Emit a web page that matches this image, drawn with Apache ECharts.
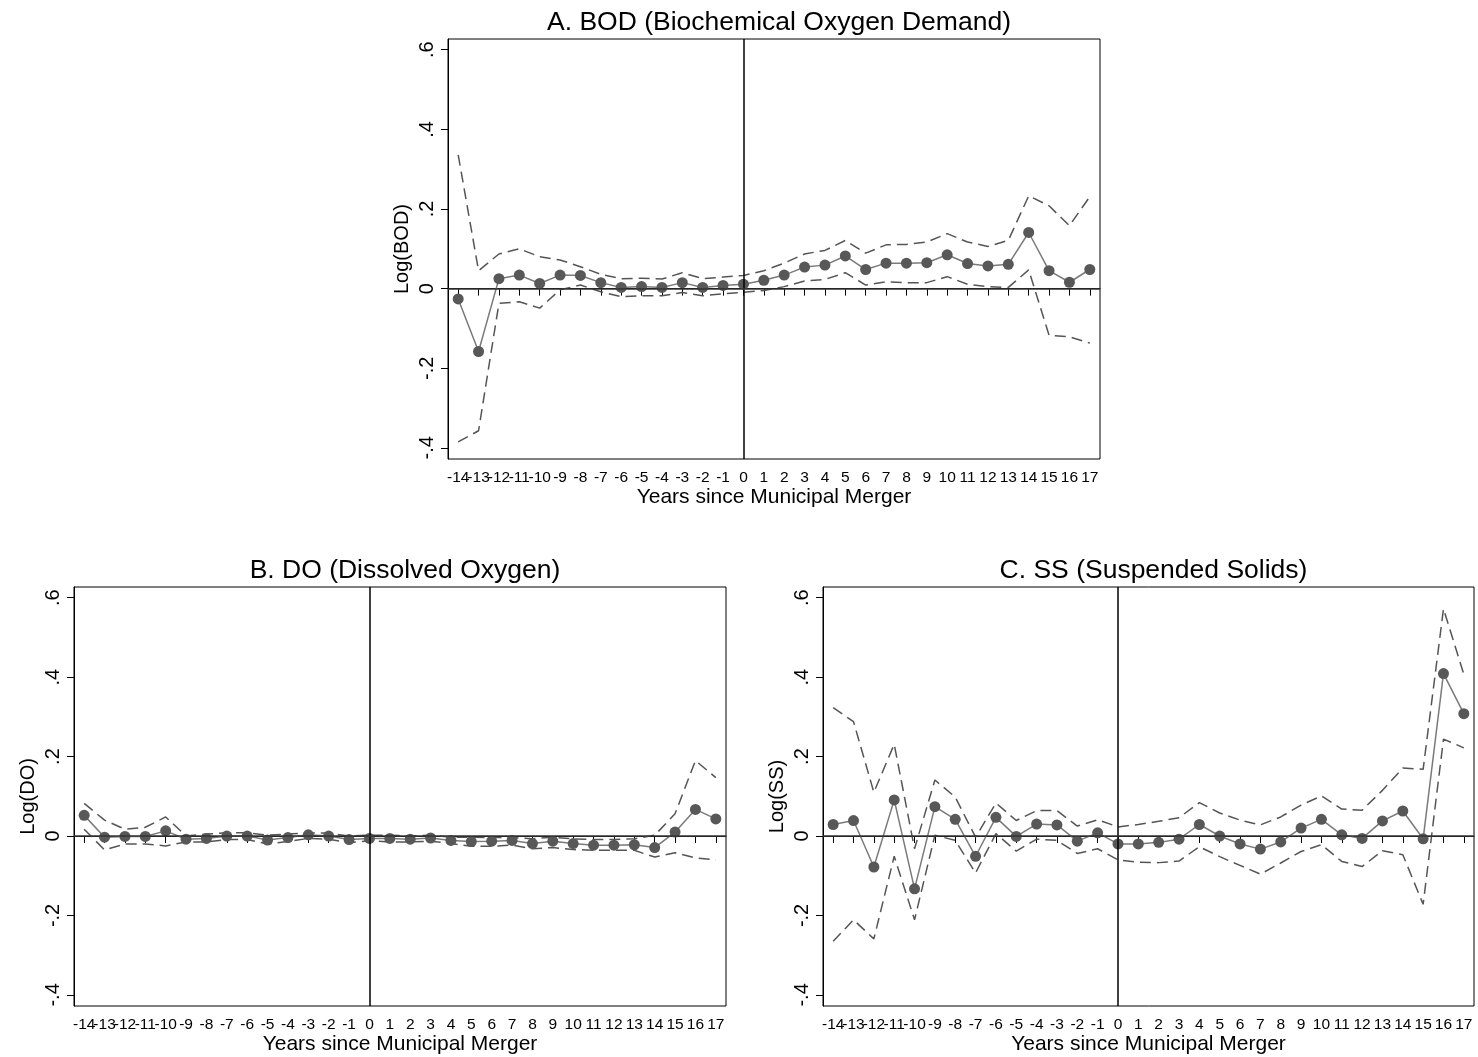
<!DOCTYPE html>
<html>
<head>
<meta charset="utf-8">
<script src="https://cdn.jsdelivr.net/npm/echarts@6/dist/echarts.min.js"></script>
<style>
html,body{margin:0;padding:0;background:#fff;}
#chart{width:1478px;height:1057px;}
</style>
</head>
<body>
<div id="chart"></div>
<script>
const years = ['-14','-13','-12','-11','-10','-9','-8','-7','-6','-5','-4','-3','-2','-1','0','1','2','3','4','5','6','7','8','9','10','11','12','13','14','15','16','17'];
const yTicks = [-0.4, -0.2, 0, 0.2, 0.4, 0.6];

const bodEst = [-0.026,-0.158,0.025,0.034,0.013,0.034,0.033,0.015,0.003,0.005,0.003,0.015,0.003,0.008,0.011,0.021,0.034,0.054,0.059,0.082,0.048,0.064,0.064,0.065,0.085,0.063,0.057,0.061,0.141,0.045,0.016,0.048];
const bodHi  = [0.336,0.045,0.087,0.100,0.080,0.072,0.055,0.036,0.025,0.026,0.024,0.040,0.025,0.029,0.033,0.045,0.064,0.087,0.096,0.121,0.089,0.110,0.111,0.117,0.138,0.117,0.106,0.121,0.233,0.208,0.158,0.231];
const bodLo  = [-0.385,-0.357,-0.037,-0.033,-0.049,-0.003,0.009,-0.008,-0.020,-0.018,-0.018,-0.010,-0.018,-0.013,-0.009,-0.005,0.005,0.019,0.023,0.040,0.009,0.017,0.015,0.015,0.030,0.011,0.005,0.003,0.047,-0.117,-0.121,-0.137];

const doEst = [0.052,-0.003,-0.001,-0.001,0.013,-0.008,-0.006,0.000,0.000,-0.010,-0.004,0.003,0.000,-0.009,-0.006,-0.006,-0.008,-0.005,-0.011,-0.014,-0.013,-0.011,-0.019,-0.013,-0.019,-0.023,-0.023,-0.022,-0.029,0.010,0.067,0.043];
const doHi  = [0.082,0.040,0.017,0.022,0.048,0.000,0.005,0.008,0.008,0.002,0.005,0.008,0.007,0.000,0.002,0.002,0.000,0.002,-0.003,-0.003,-0.004,-0.004,-0.007,-0.003,-0.007,-0.009,-0.009,-0.007,0.002,0.056,0.190,0.147];
const doLo  = [0.017,-0.035,-0.020,-0.020,-0.025,-0.015,-0.015,-0.009,-0.009,-0.020,-0.014,-0.006,-0.008,-0.017,-0.012,-0.015,-0.015,-0.013,-0.019,-0.026,-0.026,-0.023,-0.032,-0.029,-0.034,-0.036,-0.036,-0.036,-0.053,-0.042,-0.055,-0.060];

const ssEst = [0.029,0.039,-0.078,0.091,-0.133,0.074,0.042,-0.051,0.047,-0.001,0.030,0.028,-0.013,0.008,-0.020,-0.020,-0.016,-0.008,0.029,0.000,-0.020,-0.033,-0.015,0.020,0.042,0.003,-0.006,0.038,0.063,-0.007,0.409,0.308];
const ssHi  = [0.323,0.288,0.110,0.231,-0.032,0.141,0.098,-0.003,0.083,0.039,0.064,0.064,0.025,0.041,0.023,0.029,0.037,0.046,0.084,0.058,0.040,0.028,0.048,0.078,0.101,0.068,0.065,0.115,0.171,0.168,0.572,0.407];
const ssLo  = [-0.265,-0.211,-0.259,-0.051,-0.211,0.002,-0.011,-0.093,0.006,-0.038,-0.008,-0.011,-0.044,-0.032,-0.060,-0.066,-0.067,-0.063,-0.027,-0.052,-0.074,-0.096,-0.068,-0.039,-0.022,-0.064,-0.077,-0.037,-0.047,-0.172,0.244,0.222];

const panels = [
  {title: 'A. BOD (Biochemical Oxygen Demand)', yName: 'Log(BOD)', est: bodEst, hi: bodHi, lo: bodLo, grid: {left: 448, top: 39, width: 652, height: 420}},
  {title: 'B. DO (Dissolved Oxygen)', yName: 'Log(DO)', est: doEst, hi: doHi, lo: doLo, grid: {left: 74, top: 587, width: 652, height: 419}},
  {title: 'C. SS (Suspended Solids)', yName: 'Log(SS)', est: ssEst, hi: ssHi, lo: ssLo, grid: {left: 823, top: 587, width: 651, height: 419}}
];

const FONT = '"Liberation Sans", Arial, Helvetica, sans-serif';

function fmtY(v) {
  const r = Math.round(v * 10) / 10;
  if (r === 0) return '0';
  const s = Math.abs(r).toFixed(1).replace(/^0/, '');
  return (r < 0 ? '-' : '') + s;
}

const option = {
  backgroundColor: '#fff',
  animation: false,
  textStyle: {fontFamily: FONT},
  title: [],
  grid: [],
  xAxis: [],
  yAxis: [],
  series: []
};

panels.forEach((p, i) => {
  const g = p.grid;
  option.grid.push({left: g.left, top: g.top, width: g.width, height: g.height, show: true, borderColor: '#000', borderWidth: 1, containLabel: false});
  option.title.push({
    text: p.title,
    left: g.left + g.width / 2,
    top: g.top - 35,
    textAlign: 'center',
    textStyle: {fontFamily: FONT, fontSize: 26.5, fontWeight: 'normal', color: '#000'}
  });
  option.xAxis.push({
    type: 'category',
    gridIndex: i,
    data: years,
    boundaryGap: true,
    name: 'Years since Municipal Merger',
    nameLocation: 'middle',
    nameGap: 27,
    nameTextStyle: {fontFamily: FONT, fontSize: 21, color: '#000'},
    axisLine: {show: true, lineStyle: {color: '#000', width: 1}},
    axisTick: {show: true, alignWithLabel: true, interval: 0, length: 7, lineStyle: {color: '#000'}},
    axisLabel: {interval: 0, hideOverlap: false, margin: 11, fontFamily: FONT, fontSize: 15.5, color: '#000'},
    splitLine: {show: false}
  });
  option.yAxis.push({
    type: 'value',
    gridIndex: i,
    min: -0.428,
    max: 0.627,
    name: p.yName,
    nameLocation: 'middle',
    nameRotate: 90,
    nameGap: 36,
    nameTextStyle: {fontFamily: FONT, fontSize: 20, color: '#000'},
    axisLine: {show: true, lineStyle: {color: '#000', width: 1}},
    axisTick: {show: true, length: 7, customValues: yTicks, lineStyle: {color: '#000'}},
    axisLabel: {rotate: 90, margin: 11, customValues: yTicks, formatter: fmtY, fontFamily: FONT, fontSize: 20, color: '#000'},
    splitLine: {show: false}
  });
  option.series.push({
    type: 'line',
    xAxisIndex: i, yAxisIndex: i,
    data: p.hi,
    symbol: 'none',
    lineStyle: {color: '#555', width: 1.5, type: [11, 6]},
    z: 3, silent: true
  });
  option.series.push({
    type: 'line',
    xAxisIndex: i, yAxisIndex: i,
    data: p.lo,
    symbol: 'none',
    lineStyle: {color: '#555', width: 1.5, type: [11, 6]},
    z: 3, silent: true
  });
  option.series.push({
    type: 'line',
    xAxisIndex: i, yAxisIndex: i,
    data: p.est,
    symbol: 'circle',
    symbolSize: 11,
    itemStyle: {color: '#585858', borderWidth: 0},
    lineStyle: {color: '#7a7a7a', width: 1.5},
    z: 4, silent: true,
    markLine: {
      silent: true,
      symbol: 'none',
      label: {show: false},
      lineStyle: {color: '#000', width: 1.5, type: 'solid'},
      data: [{xAxis: '0'}, {yAxis: 0, lineStyle: {color: '#333', width: 1.5, type: 'solid'}}]
    }
  });
});

const chart = echarts.init(document.getElementById('chart'), null, {renderer: 'canvas'});
chart.setOption(option);
</script>
</body>
</html>
